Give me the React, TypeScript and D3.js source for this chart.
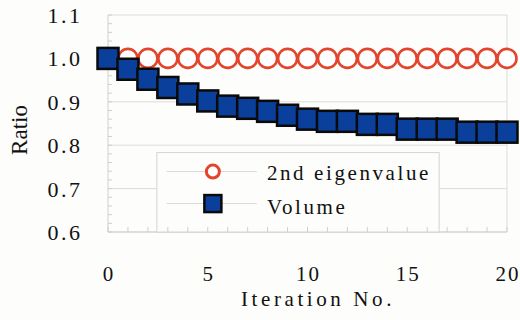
import React from "react";
import * as d3 from "d3";

const iterations = d3.range(0, 21);
const eigenvalue = [1, 1, 1, 1, 1, 1, 1, 1, 1, 1, 1, 1, 1, 1, 1, 1, 1, 1, 1, 1, 1];
const volume = [
  1.0, 0.975, 0.952, 0.933, 0.918, 0.902, 0.89, 0.885, 0.878, 0.869, 0.86,
  0.855, 0.855, 0.848, 0.848, 0.837, 0.837, 0.837, 0.83, 0.83, 0.83,
];
const xTicks = [0, 5, 10, 15, 20];
const yTicks = [0.6, 0.7, 0.8, 0.9, 1.0, 1.1];
const seriesNames = ["2nd eigenvalue", "Volume"];

const width = 520;
const height = 320;
const margin = { top: 15, right: 13, bottom: 88, left: 108 };
const font = "'Liberation Serif', 'Times New Roman', serif";

export default function App() {
  const innerW = width - margin.left - margin.right;
  const innerH = height - margin.top - margin.bottom;
  const x = d3.scaleLinear().domain([0, 20]).range([0, innerW]);
  const y = d3.scaleLinear().domain([0.6, 1.1]).range([innerH, 0]);
  const minorY = d3.range(0.6, 1.1001, 0.02);

  // legend box in plot coordinates
  const lg = { x: x(2.45), y: y(0.783), w: x(16.6) - x(2.45) };
  const lgH = innerH - lg.y;

  return (
    <svg
      width={width}
      height={height}
      style={{ position: "absolute", left: 0, top: 0, background: "#fdfdfb" }}
    >
      <g transform={`translate(${margin.left},${margin.top})`}>
        {/* grid */}
        {yTicks.map((t) => (
          <line key={t} x1={0} x2={innerW} y1={y(t)} y2={y(t)} stroke="#dcdcdc" strokeWidth={1} />
        ))}
        <line x1={innerW} x2={innerW} y1={0} y2={innerH} stroke="#dcdcdc" />
        {/* axes */}
        <line x1={0} x2={0} y1={0} y2={innerH} stroke="#cfcfcf" />
        <line x1={0} x2={innerW} y1={innerH} y2={innerH} stroke="#cfcfcf" />
        {minorY.map((t, i) => (
          <line key={i} x1={0} x2={4} y1={y(t)} y2={y(t)} stroke="#cfcfcf" />
        ))}
        {iterations.map((t) => (
          <line key={t} x1={x(t)} x2={x(t)} y1={innerH} y2={innerH - 5} stroke="#cfcfcf" />
        ))}

        {/* series */}
        {iterations.map((t, i) => (
          <circle
            key={"c" + t}
            cx={x(t)}
            cy={y(eigenvalue[i])}
            r={9.5}
            fill="#ffffff"
            stroke="#e2452b"
            strokeWidth={2.6}
          />
        ))}
        {iterations.map((t, i) => (
          <rect
            key={"s" + t}
            x={x(t) - 10.5}
            y={y(volume[i]) - 10.5}
            width={21}
            height={21}
            fill="#0b3f9c"
            stroke="#0a0a0a"
            strokeWidth={2.5}
          />
        ))}

        {/* legend */}
        <rect x={lg.x} y={lg.y} width={lg.w} height={lgH} fill="#fdfdfb" stroke="#d4d4d4" />
        {iterations.slice(3, 17).map((t) => (
          <line key={"l" + t} x1={x(t)} x2={x(t)} y1={innerH} y2={innerH - 5} stroke="#cfcfcf" />
        ))}
        {seriesNames.map((name, i) => {
          const ly = lg.y + 19 + i * 32;
          const mx = lg.x + 56;
          return (
            <g key={name}>
              <line x1={lg.x + 10} x2={lg.x + 100} y1={ly} y2={ly} stroke="#d8d8d8" />
              {i === 0 ? (
                <circle cx={mx} cy={ly} r={6.5} fill="#ffffff" stroke="#e2452b" strokeWidth={3} />
              ) : (
                <rect x={mx - 8.5} y={ly - 8.5} width={17} height={17} fill="#0b3f9c" stroke="#0a0a0a" strokeWidth={2.5} />
              )}
              <text
                x={lg.x + 110}
                y={ly + 8 + i * 2}
                fontFamily={font}
                fontSize={21}
                letterSpacing={2.6}
                fill="#111"
              >
                {name}
              </text>
            </g>
          );
        })}

        {/* tick labels */}
        {yTicks.map((t) => (
          <text
            key={"yt" + t}
            x={-28 + 2.5}
            y={y(t) + 8}
            textAnchor="end"
            fontFamily={font}
            fontSize={22}
            letterSpacing={2.5}
            fill="#111"
          >
            {t.toFixed(1)}
          </text>
        ))}
        {xTicks.map((t) => (
          <text
            key={"xt" + t}
            x={x(t) + 1}
            y={innerH + 49}
            textAnchor="middle"
            fontFamily={font}
            fontSize={21}
            letterSpacing={2}
            fill="#111"
          >
            {t}
          </text>
        ))}
        <text
          x={316 - margin.left + 2}
          y={innerH + 74}
          textAnchor="middle"
          fontFamily={font}
          fontSize={21}
          letterSpacing={3.6}
          fill="#111"
        >
          Iteration No.
        </text>
        <text
          transform={`translate(${27 - margin.left},${130 - margin.top}) rotate(-90)`}
          textAnchor="middle"
          fontFamily={font}
          fontSize={23}
          fill="#111"
        >
          Ratio
        </text>
      </g>
    </svg>
  );
}
